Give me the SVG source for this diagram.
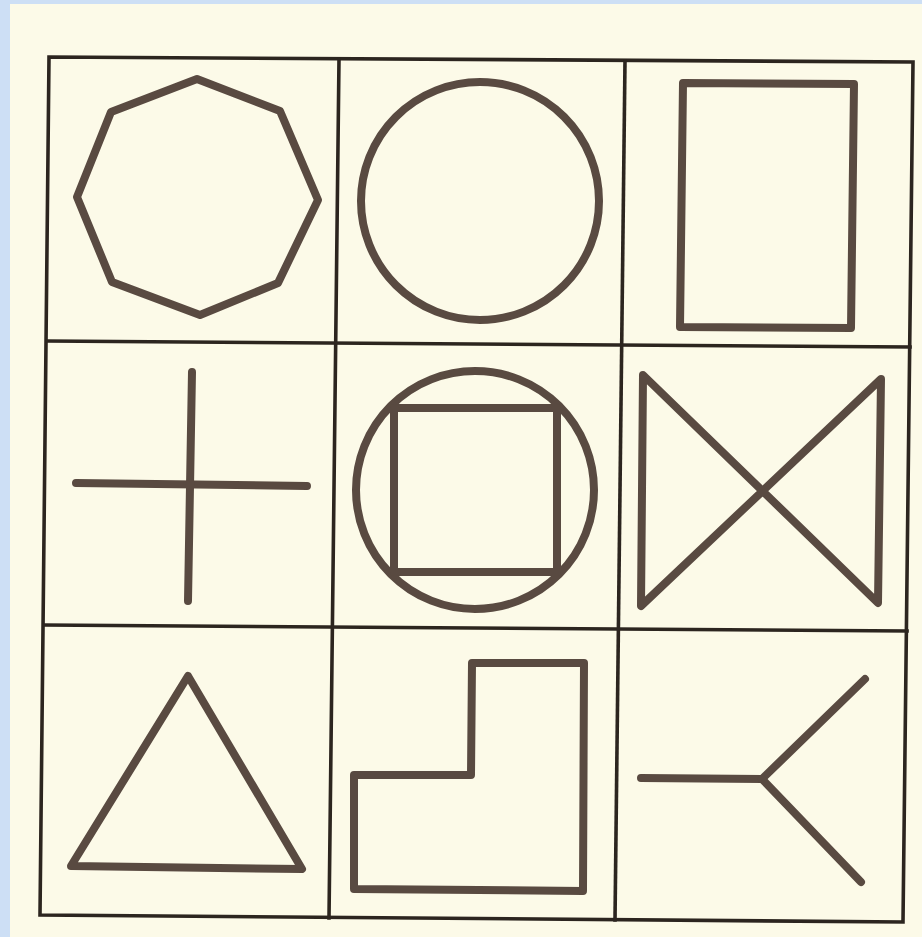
<svg xmlns="http://www.w3.org/2000/svg" width="922" height="937" viewBox="0 0 922 937">
<defs>
<style>
.grid{fill:none;stroke:#2c251f;stroke-width:3.6;stroke-linecap:square}
.shape{fill:none;stroke:#594a41;stroke-width:8;stroke-linejoin:round;stroke-linecap:round}
</style>
</defs>
<rect x="0" y="0" width="922" height="937" fill="#cddff5"/>
<rect x="10" y="4" width="912" height="933" fill="#fcfae8"/>
<g id="grid">
<polygon class="grid" points="49,57 913,62 903,922 40,915"/>
<line class="grid" x1="339" y1="59" x2="329" y2="918"/>
<line class="grid" x1="625" y1="61" x2="615" y2="920"/>
<line class="grid" x1="47" y1="341" x2="910" y2="347"/>
<line class="grid" x1="44" y1="625" x2="907" y2="631"/>
</g>
<g id="octagon"><polygon class="shape" points="197,79 280,111 318,200 278,283 200,315 112,282 77,197 111,112"/></g>
<g id="circle"><circle class="shape" cx="480" cy="201" r="119"/></g>
<g id="rectangle"><polygon class="shape" points="683,83 854,84 851,328 680,327"/></g>
<g id="cross">
<line class="shape" x1="76" y1="483" x2="307" y2="486"/>
<line class="shape" x1="192" y1="372" x2="188" y2="601"/>
</g>
<g id="circle-square">
<circle class="shape" cx="475" cy="490" r="119"/>
<rect class="shape" x="394" y="408" width="163" height="164"/>
</g>
<g id="bowtie"><polygon class="shape" points="643,375 878,603 881,379 641,606"/></g>
<g id="triangle"><polygon class="shape" points="188,676 302,869 71,866"/></g>
<g id="l-shape"><polygon class="shape" points="472,663 584,663 583,891 354,889 354,775 471,775"/></g>
<g id="y-shape">
<line class="shape" x1="641" y1="778" x2="762" y2="779"/>
<line class="shape" x1="762" y1="779" x2="865" y2="679"/>
<line class="shape" x1="762" y1="779" x2="861" y2="882"/>
</g>
</svg>
